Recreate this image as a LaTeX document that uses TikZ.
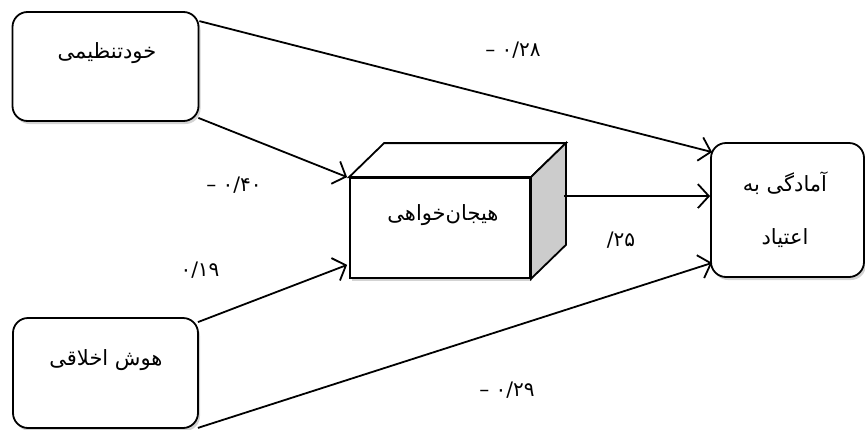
\documentclass[tikz,border=0pt]{standalone}
\usepackage{fontspec}
\newfontfamily\arabicfont[Script=Arabic]{DejaVu Sans}
\TeXXeTstate=1
\usetikzlibrary{arrows.meta,calc,shadows}
\begin{document}
\begin{tikzpicture}[x=1pt,y=-1pt,
  box/.style={draw,line width=1.8pt,rounded corners=15pt,fill=white,
    drop shadow={opacity=0.35,shadow xshift=2pt,shadow yshift=-3pt}},
  lbl/.style={font=\arabicfont\fontsize{21}{24}\selectfont,inner sep=0pt},
  num/.style={font=\arabicfont\fontsize{20}{22}\selectfont,inner sep=0pt},
  conn/.style={line width=1.8pt,-{Straight Barb[length=11pt,width=24pt,line width=1.8pt]}},
  face/.style={draw,line width=1.8pt,line join=miter}]
\useasboundingbox (0,0) rectangle (865,429);
% boxes
\node[box,minimum width=186pt,minimum height=109pt] (b1) at (105.5,66.5) {};
\node[lbl] (t1) at (107,53) {\beginR خودتنظیمی\endR};
\node[box,minimum width=185pt,minimum height=110pt] (b2) at (105.5,373) {};
\node[lbl] (t2) at (106,360) {\beginR هوش اخلاقی\endR};
\node[box,minimum width=153pt,minimum height=134pt] (b3) at (787.5,210) {};
\node[lbl] (t3a) at (785,183) {\beginR آمادگی به\endR};
\node[lbl] (t3b) at (785,238) {\beginR اعتیاد\endR};
% cube
\node[draw,line width=1.8pt,fill=white,minimum width=180pt,minimum height=100pt,inner sep=0pt,
  drop shadow={opacity=0.35,shadow xshift=2pt,shadow yshift=-3pt}] (cube) at (440,228) {};
\coordinate (tbl) at ($(cube.north west)+(35,-34)$);
\coordinate (tbr) at ($(cube.north east)+(35,-34)$);
\coordinate (bbr) at ($(cube.south east)+(35,-34)$);
\filldraw[face,fill=white] (cube.north west) -- (tbl) -- (tbr) -- (cube.north east) -- cycle;
\filldraw[face,fill=black!20] (cube.north east) -- (tbr) -- (bbr) -- (cube.south east) -- cycle;
\node[lbl] (tc) at (443,215) {\beginR هیجان‌خواهی\endR};
% connectors
\coordinate (s1) at ($(b1.north east)+(0,10)$);
\coordinate (e1) at ($(b3.north west)+(2,10)$);
\coordinate (s2) at ($(b1.south east)+(-1,-4)$);
\coordinate (s3) at ($(b2.north east)+(-1,5)$);
\coordinate (e3) at ($(cube.south west)+(-2,-14)$);
\coordinate (s4) at ($(b2.south east)+(-1,-1)$);
\coordinate (e4) at ($(b3.south west)+(2,-15)$);
\coordinate (s5) at ($(cube.north east)+(33,19)$);
\coordinate (e5) at (b3.west |- s5);
\draw[conn] (s1) -- (e1);
\draw[conn] (s2) -- ($(cube.north west)+(-2,0)$);
\draw[conn] (s3) -- (e3);
\draw[conn] (s4) -- (e4);
\draw[conn] (s5) -- (e5);
% labels
\node[num] (n1) at (513,50) {\hbox{–}\hbox{ }\hbox{۰}\hbox{/}\hbox{۲۸}};
\node[num] (n2) at (234,185) {\hbox{–}\hbox{ }\hbox{۰}\hbox{/}\hbox{۴۰}};
\node[num] (n3) at (200,270) {\hbox{۰}\hbox{/}\hbox{۱۹}};
\node[num] (n4) at (621,240) {\hbox{/}\hbox{۲۵}};
\node[num] (n5) at (507,390) {\hbox{–}\hbox{ }\hbox{۰}\hbox{/}\hbox{۲۹}};
\end{tikzpicture}
\end{document}
